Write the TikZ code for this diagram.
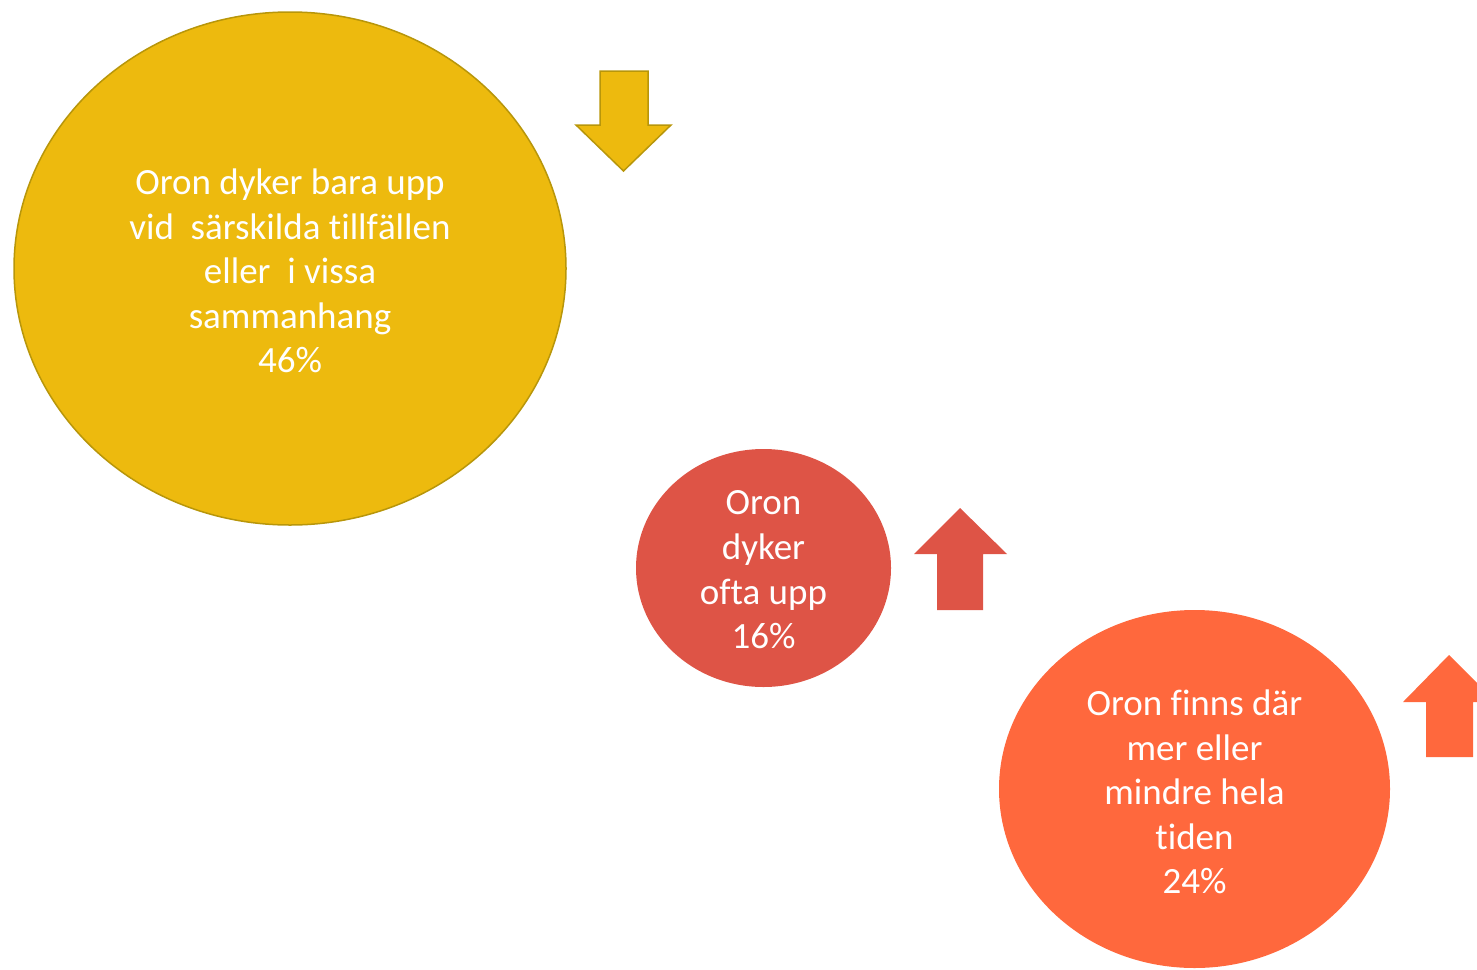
\documentclass[tikz,border=0pt]{standalone}
\usepackage{fontspec}
\setmainfont{Carlito}[RawFeature={-liga;-clig;-calt;-dlig}]
\usetikzlibrary{shapes.geometric}
\definecolor{gold}{HTML}{EDBA0E}
\definecolor{goldline}{HTML}{B8960A}
\definecolor{redc}{HTML}{DE5446}
\definecolor{orangec}{HTML}{FF683D}
\newcommand\nolig{\kern0pt{}}
\tikzset{
  bubble/.style={ellipse, inner sep=0pt},
  bubbletext/.style={align=center, text=white, font=\fontsize{37}{44.6}\selectfont},
}
\begin{document}
\begin{tikzpicture}[x=1pt,y=-1pt]
\useasboundingbox (0,0) rectangle (1477,969);
\begin{scope}
\clip (0,0) rectangle (1477,969);
% ellipses
\node[bubble, fill=gold, draw=goldline, line width=1.5pt,
  minimum width=552pt, minimum height=513pt] (yellow) at (290,268.5) {};
\node[bubbletext] (yellowtext) at (290,271)
  {Oron dyker bara upp\\vid\ \ särskilda t\nolig illf\nolig ällen\\eller\ \ i vissa\\sammanhang\\46\%};
\node[bubble, fill=redc, minimum width=255pt, minimum height=238pt] (red) at (763.5,568) {};
\node[bubbletext] (redtext) at (763.5,570)
  {Oron\\dyker\\of\nolig ta upp\\16\%};
\node[bubble, fill=orangec, minimum width=391pt, minimum height=358pt] (orange) at (1194.5,789) {};
\node[bubbletext] (orangetext) at (1194.5,792)
  {Oron f\nolig inns där\\mer eller\\mindre hela\\t\nolig iden\\24\%};
% arrows
\draw[fill=gold, draw=goldline, line width=1.5pt, line join=miter]
  (600,71) -- (648,71) -- (648,125) -- (671,125) -- (623.5,171) -- (576,125) -- (600,125) -- cycle;
\fill[redc] (937,610) -- (983,610) -- (983,554) -- (1007,554) -- (960,508) -- (914,554) -- (937,554) -- cycle;
\fill[orangec] (1426,757) -- (1473,757) -- (1473,702) -- (1496,702) -- (1449,655) -- (1403,702) -- (1426,702) -- cycle;
\end{scope}
\end{tikzpicture}
\end{document}
